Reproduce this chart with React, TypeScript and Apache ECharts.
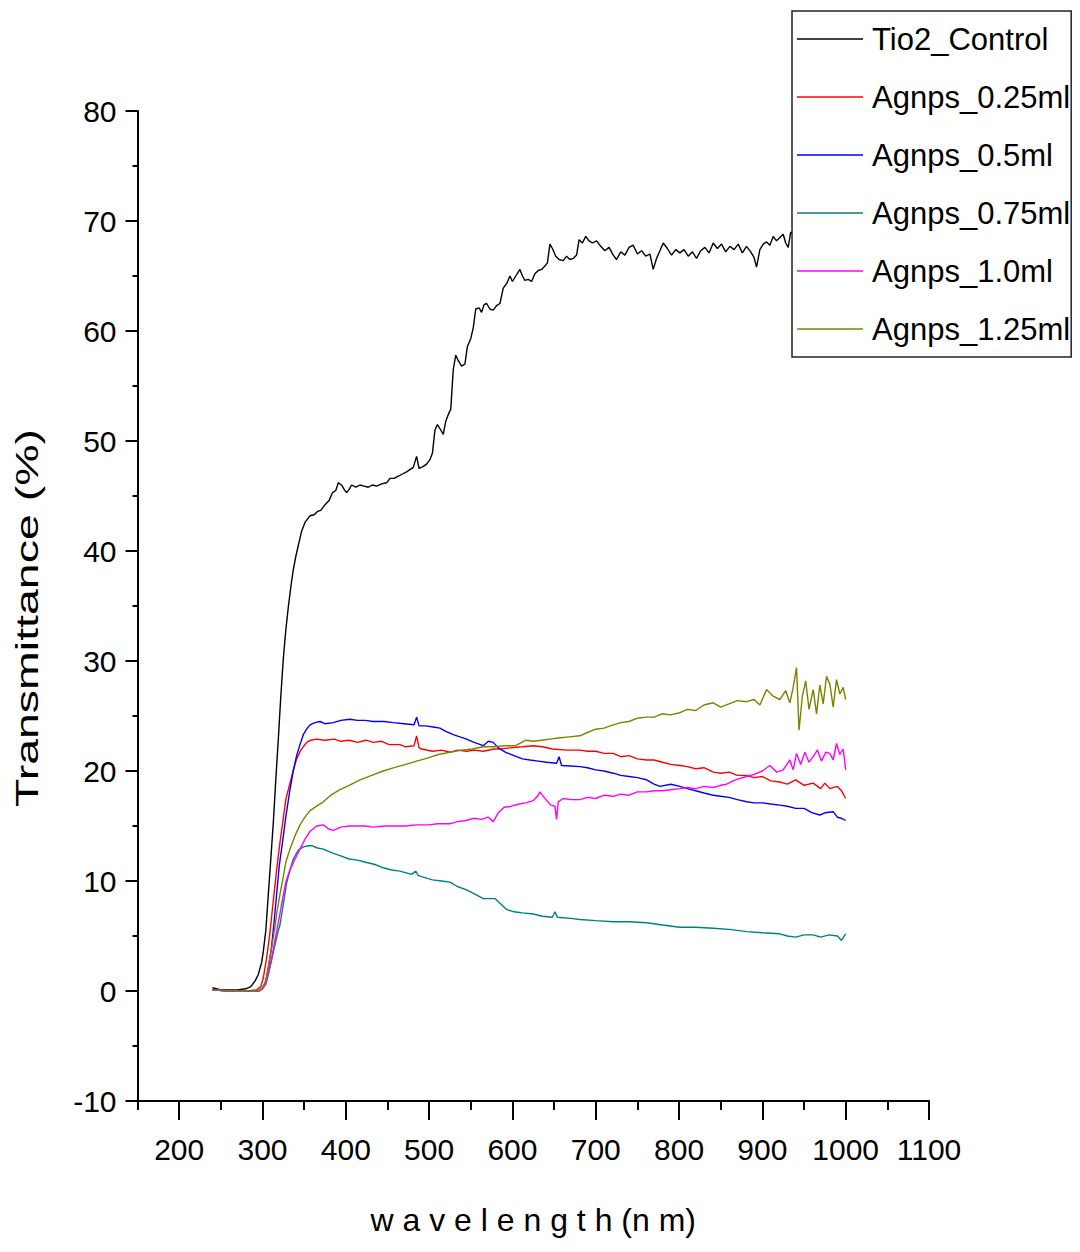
import React, { useEffect, useRef } from "react";
import * as echarts from "echarts";

const SANS = "'Liberation Sans', Arial, sans-serif";

const seriesNames = ["Tio2_Control", "Agnps_0.25ml", "Agnps_0.5ml", "Agnps_0.75ml", "Agnps_1.0ml", "Agnps_1.25ml"];
const seriesColors = ["#000000", "#ff0000", "#0000ff", "#008080", "#ff00ff", "#808000"];

const xMajorTicks = [200, 300, 400, 500, 600, 700, 800, 900, 1000, 1100];
const xMinorTicks = [150, 250, 350, 450, 550, 650, 750, 850, 950, 1050];

const wlControl = [240, 250, 260, 270, 280, 286, 291, 295, 299, 301, 304, 307, 310, 313, 316, 319, 322, 325, 328, 331, 334.5, 337, 340, 343, 347, 351, 357, 362, 366, 370, 375, 380, 384, 388, 391, 395, 398, 401, 404, 407, 412, 417, 422, 427, 432, 437, 443, 449, 453, 458, 463, 468, 473, 477, 481, 485, 488, 493, 497, 501, 504, 507, 510, 514, 517, 520, 523, 526, 529, 532, 535, 539, 543, 546, 550, 553, 556, 560, 563, 566, 569, 573, 577, 581, 585, 589, 593, 597, 600, 604, 609, 612, 615, 619, 623, 627, 631, 635, 639, 642, 645, 648, 652, 656, 661, 665, 669, 673, 677, 680, 684, 688, 692, 696, 701, 706, 711, 716, 721, 725, 730, 735, 740, 745, 750, 755, 760, 765, 769, 773, 777, 781, 786, 791, 796, 801, 806, 811, 816, 821, 826, 831, 836, 841, 846, 851, 856, 861, 866, 871, 876, 881, 886, 890, 893, 897, 901, 905, 909, 913, 917, 921, 925, 928, 931, 934, 940, 950, 960, 970, 980, 990, 1000];
const tControl = [0.3, 0.1, 0.1, 0.1, 0.2, 0.4, 0.9, 1.5, 2.6, 3.6, 5.5, 8.8, 12, 15.3, 19.2, 22.9, 26.8, 30.2, 32.8, 34.9, 37, 38.3, 39.5, 40.5, 41.8, 42.6, 43.2, 43.3, 43.6, 43.7, 44.2, 44.6, 45.3, 45.5, 46.2, 46.0, 45.6, 45.3, 45.6, 46.0, 45.8, 46.0, 45.9, 45.8, 46.0, 45.9, 46.1, 46.2, 46.6, 46.6, 46.8, 47.0, 47.2, 47.4, 47.6, 48.6, 47.5, 47.7, 47.9, 48.3, 48.9, 51.0, 51.5, 51.0, 50.6, 51.8, 52.4, 52.9, 56.5, 57.8, 57.3, 56.8, 57.0, 58.6, 59.3, 60.3, 62.0, 62.1, 61.7, 62.4, 62.5, 62.0, 61.9, 62.3, 62.5, 63.9, 64.3, 65.0, 64.5, 65.0, 65.6, 65.0, 64.6, 64.7, 64.5, 65.2, 65.5, 65.6, 65.9, 66.2, 67.9, 67.5, 66.8, 66.5, 66.4, 66.8, 66.5, 66.6, 66.9, 68.3, 68.0, 68.6, 68.2, 68.0, 68.2, 67.7, 67.3, 67.6, 66.9, 66.5, 67.2, 66.9, 67.6, 67.8, 67.0, 67.3, 66.8, 67.0, 65.6, 66.6, 67.3, 68.0, 67.5, 66.9, 67.4, 67.1, 67.4, 66.8, 67.2, 66.6, 67.3, 67.6, 67.1, 68.0, 67.5, 67.9, 67.2, 67.7, 67.4, 67.9, 67.1, 67.7, 67.2, 66.7, 65.8, 67.4, 67.9, 68.1, 67.8, 68.6, 68.2, 68.5, 68.8, 68.0, 67.6, 69.0, 68.7, 68.9, 68.5, 68.9, 68.6, 68.8, 68.7];

const wl025 = [240, 260, 280, 293, 298, 301, 305, 309, 313, 317, 321, 325, 328, 333, 337, 341, 346, 353, 358, 365, 375, 386, 394, 404, 414, 424, 433, 443, 452, 465, 472, 482, 485, 488, 491, 504, 515, 525, 534, 545, 554, 565, 578, 585, 597, 612, 625, 636, 648, 665, 681, 690, 700, 710, 721, 730, 740, 750, 761, 770, 780, 790, 801, 810, 820, 830, 841, 850, 860, 870, 881, 890, 900, 910, 921, 930, 940, 950, 961, 970, 975, 981, 990, 995, 1000];
const t025 = [0.1, 0, 0, 0.1, 0.4, 1.2, 3.0, 5.3, 8.2, 11.0, 13.5, 15.7, 17.4, 18.9, 20.1, 21.1, 21.9, 22.6, 22.8, 22.9, 22.8, 22.9, 22.7, 22.8, 22.6, 22.8, 22.6, 22.7, 22.4, 22.4, 22.2, 22.3, 23.2, 22.1, 22.0, 21.8, 21.9, 21.7, 21.9, 21.8, 21.9, 21.8, 22.0, 22.0, 22.1, 22.2, 22.3, 22.2, 22.0, 21.9, 21.9, 21.8, 21.8, 21.6, 21.6, 21.3, 21.4, 21.1, 21.0, 21.0, 20.8, 20.6, 20.5, 20.4, 20.2, 20.3, 19.9, 19.8, 19.9, 19.6, 19.6, 19.4, 19.5, 19.1, 19.0, 18.8, 19.2, 18.7, 18.9, 18.4, 18.9, 18.4, 18.6, 18.2, 17.5];

const wl05 = [240, 260, 280, 296, 300, 303, 305, 308, 311, 314, 317, 320, 324, 328, 333, 337, 341, 345, 349, 353, 357, 363, 369, 375, 385, 394, 405, 414, 423, 433, 446, 457, 470, 482, 485, 488, 496, 505, 513, 520, 529, 537, 545, 554, 565, 571, 577, 583, 592, 602, 612, 621, 631, 641, 653, 656, 659, 670, 681, 690, 700, 710, 721, 730, 740, 750, 761, 770, 777, 790, 801, 810, 820, 830, 841, 850, 860, 870, 881, 890, 900, 910, 921, 930, 940, 950, 960, 969, 975, 985, 990, 995, 1000];
const t05 = [0.1, 0, 0, 0, 0.3, 0.7, 1.3, 2.5, 4.1, 6.3, 8.8, 11.3, 13.5, 15.8, 18.3, 20.0, 21.4, 22.4, 23.3, 23.8, 24.2, 24.4, 24.5, 24.3, 24.4, 24.6, 24.7, 24.6, 24.6, 24.5, 24.5, 24.4, 24.3, 24.2, 24.9, 24.1, 24.1, 24.0, 23.9, 23.6, 23.3, 23.1, 22.9, 22.6, 22.3, 22.7, 22.6, 22.1, 21.7, 21.4, 21.1, 21.0, 20.9, 20.8, 20.7, 21.3, 20.5, 20.45, 20.4, 20.3, 20.1, 20.0, 19.8, 19.6, 19.5, 19.4, 19.2, 18.8, 18.6, 18.8, 18.6, 18.4, 18.2, 18.0, 17.8, 17.7, 17.6, 17.4, 17.2, 17.1, 17.1, 17.0, 16.9, 16.8, 16.6, 16.6, 16.2, 16.0, 16.2, 16.3, 15.8, 15.7, 15.5];

const wl075 = [240, 260, 280, 296, 300, 304, 307, 311, 315, 319, 321, 325, 329, 333, 337, 343, 349, 355, 360, 366, 373, 382, 393, 404, 414, 424, 435, 445, 455, 465, 479, 484, 487, 491, 504, 515, 525, 534, 545, 555, 565, 579, 586, 593, 602, 612, 625, 636, 648, 651, 654, 670, 681, 700, 721, 740, 761, 780, 801, 820, 841, 860, 881, 900, 921, 930, 940, 950, 961, 970, 980, 990, 995, 1000];
const t075 = [0.1, 0, 0, 0, 0.2, 0.6, 1.5, 2.8, 4.2, 5.5, 6.0, 7.9, 9.8, 11.0, 12.0, 12.8, 13.1, 13.2, 13.2, 13.0, 12.9, 12.6, 12.3, 12.0, 11.9, 11.7, 11.5, 11.2, 11.0, 10.9, 10.6, 10.9, 10.5, 10.4, 10.1, 10.0, 9.9, 9.5, 9.2, 8.8, 8.4, 8.4, 7.9, 7.4, 7.2, 7.1, 7.0, 6.8, 6.7, 7.2, 6.7, 6.6, 6.5, 6.4, 6.3, 6.3, 6.2, 6.0, 5.8, 5.8, 5.7, 5.6, 5.4, 5.3, 5.2, 5.0, 4.9, 5.1, 5.1, 4.9, 5.1, 5.0, 4.6, 5.2];

const wl10 = [240, 260, 280, 296, 300, 304, 307, 311, 315, 319, 324, 328, 333, 339, 345, 351, 357, 365, 373, 380, 385, 394, 404, 414, 423, 433, 446, 457, 472, 485, 500, 510, 525, 534, 544, 553, 563, 571, 577, 583, 590, 599, 608, 616, 625, 630, 633, 638, 646, 651, 653, 655, 661, 670, 681, 690, 700, 710, 721, 730, 740, 750, 761, 770, 780, 790, 801, 810, 820, 830, 841, 850, 857, 865, 872, 881, 890, 900, 909, 917, 925, 933, 937, 941, 946, 951, 956, 961, 966, 971, 976, 981, 985, 989, 993, 997, 1000];
const t10 = [0.1, 0, 0, 0, 0.2, 0.7, 1.6, 3.0, 4.6, 6.2, 8.3, 9.9, 11.0, 12.0, 12.9, 13.8, 14.5, 15.0, 15.1, 14.7, 14.6, 14.9, 15.0, 15.0, 15.0, 14.9, 15.0, 15.0, 15.0, 15.1, 15.1, 15.2, 15.2, 15.4, 15.5, 15.7, 15.6, 15.8, 15.4, 16.2, 16.7, 16.8, 17.0, 17.1, 17.3, 17.7, 18.1, 17.6, 16.9, 16.8, 15.6, 17.2, 17.5, 17.4, 17.4, 17.6, 17.5, 17.8, 17.7, 17.9, 17.8, 18.1, 18.1, 18.2, 18.2, 18.3, 18.4, 18.5, 18.4, 18.6, 18.5, 18.7, 18.8, 19.1, 19.3, 19.5, 19.7, 20.0, 20.5, 19.9, 20.1, 21.0, 20.1, 21.6, 20.6, 21.7, 20.8, 21.3, 21.9, 20.9, 21.7, 21.6, 21.0, 22.5, 21.5, 22.0, 20.1];

const wl125 = [240, 260, 280, 296, 300, 304, 307, 311, 315, 317, 321, 325, 328, 333, 339, 345, 351, 357, 365, 373, 382, 393, 404, 417, 431, 445, 458, 472, 485, 499, 511, 525, 539, 552, 565, 578, 591, 604, 616, 625, 635, 645, 655, 668, 681, 690, 700, 710, 721, 730, 740, 750, 761, 770, 780, 790, 801, 810, 820, 830, 841, 850, 860, 870, 881, 890, 897, 905, 913, 921, 928, 933, 937, 941, 944, 948, 952, 956, 961, 965, 969, 973, 977, 981, 985, 989, 993, 997, 1000];
const t125 = [0.1, 0, 0, 0, 0.3, 0.9, 2.2, 3.9, 5.8, 7.0, 8.8, 10.4, 11.7, 12.9, 14.1, 15.1, 15.8, 16.4, 16.8, 17.2, 17.8, 18.3, 18.7, 19.2, 19.6, 20.0, 20.3, 20.6, 20.9, 21.2, 21.5, 21.7, 21.9, 22.0, 22.2, 22.2, 22.3, 22.3, 22.8, 22.7, 22.8, 22.9, 23.0, 23.1, 23.2, 23.5, 23.8, 23.9, 24.2, 24.4, 24.5, 24.8, 24.9, 24.9, 25.2, 25.1, 25.3, 25.6, 25.5, 26.0, 26.2, 25.8, 26.1, 26.4, 26.3, 26.5, 26.0, 27.4, 26.8, 26.5, 27.3, 26.2, 27.6, 29.4, 23.7, 26.8, 28.2, 25.6, 27.4, 25.2, 27.8, 26.1, 28.6, 27.9, 25.8, 28.3, 27.0, 27.6, 26.5];

const wavelengths = [wlControl, wl025, wl05, wl075, wl10, wl125];
const transmittances = [tControl, t025, t05, t075, t10, t125];

export default function App() {
  const ref = useRef<HTMLDivElement>(null);

  useEffect(() => {
    if (!ref.current) return;
    const chart = echarts.init(ref.current, undefined, { renderer: "svg" });
    const series = seriesNames.map((name, i) => ({
      name,
      type: "line",
      xAxisIndex: 0,
      yAxisIndex: 0,
      symbol: "none",
      showSymbol: false,
      data: wavelengths[i].map((w, j) => [w, transmittances[i][j]]),
      lineStyle: { color: seriesColors[i], width: 1.4 },
      itemStyle: { color: seriesColors[i] },
      emphasis: { disabled: true },
    }));

    chart.setOption({
      animation: false,
      backgroundColor: "#ffffff",
      grid: { left: 137.5, right: 151, top: 111, bottom: 151 },
      legend: {
        orient: "vertical",
        left: 792,
        top: 11,
        padding: [5, 1, 5, 5],
        icon: "rect",
        symbolKeepAspect: false,
        itemWidth: 66,
        itemHeight: 1.6,
        itemGap: 12,
        backgroundColor: "#ffffff",
        borderColor: "#222222",
        borderWidth: 1.5,
        borderRadius: 0,
        selectedMode: false,
        data: seriesNames,
        textStyle: {
          fontFamily: SANS,
          fontSize: 31,
          color: "#000",
          lineHeight: 46,
          padding: [0, 0, 0, 4],
        },
      },
      xAxis: [
        {
          type: "value",
          min: 150,
          max: 1100,
          position: "bottom",
          axisLine: { show: true, onZero: false, lineStyle: { color: "#000", width: 2 } },
          axisTick: { show: true, length: 19, customValues: xMajorTicks, lineStyle: { color: "#000", width: 2 } },
          axisLabel: {
            show: true,
            customValues: xMajorTicks,
            formatter: (v: number) => String(v),
            fontFamily: SANS,
            fontSize: 30,
            color: "#000",
            margin: 33,
          },
          splitLine: { show: false },
          name: "w a v e l e n g t h (n m)",
          nameLocation: "middle",
          nameGap: 103,
          nameTextStyle: { fontFamily: SANS, fontSize: 32, color: "#000" },
        },
        {
          type: "value",
          min: 150,
          max: 1100,
          position: "bottom",
          axisLine: { show: false, onZero: false },
          axisTick: { show: true, length: 9, customValues: xMinorTicks, lineStyle: { color: "#000", width: 2 } },
          axisLabel: { show: false },
          splitLine: { show: false },
        },
      ],
      yAxis: {
        type: "value",
        min: -10,
        max: 80,
        interval: 10,
        axisLine: { show: true, onZero: false, lineStyle: { color: "#000", width: 2 } },
        axisTick: { show: true, length: 12, lineStyle: { color: "#000", width: 2 } },
        minorTick: { show: true, splitNumber: 2, length: 5, lineStyle: { color: "#000", width: 2 } },
        axisLabel: { fontFamily: SANS, fontSize: 30, color: "#000", margin: 21 },
        splitLine: { show: false },
        minorSplitLine: { show: false },
      },
      graphic: [
        {
          type: "text",
          x: 27,
          y: 618,
          rotation: Math.PI / 2,
          scaleX: 1.5,
          style: {
            text: "Transmittance (%)",
            fontFamily: SANS,
            fontSize: 31,
            fill: "#000",
            align: "center",
            verticalAlign: "middle",
            textAlign: "center",
            textVerticalAlign: "middle",
          },
        },
      ],
      series,
    });

    return () => chart.dispose();
  }, []);

  return (
    <div
      ref={ref}
      style={{ position: "fixed", left: 0, top: 0, width: 1080, height: 1252, background: "#fff" }}
    />
  );
}
